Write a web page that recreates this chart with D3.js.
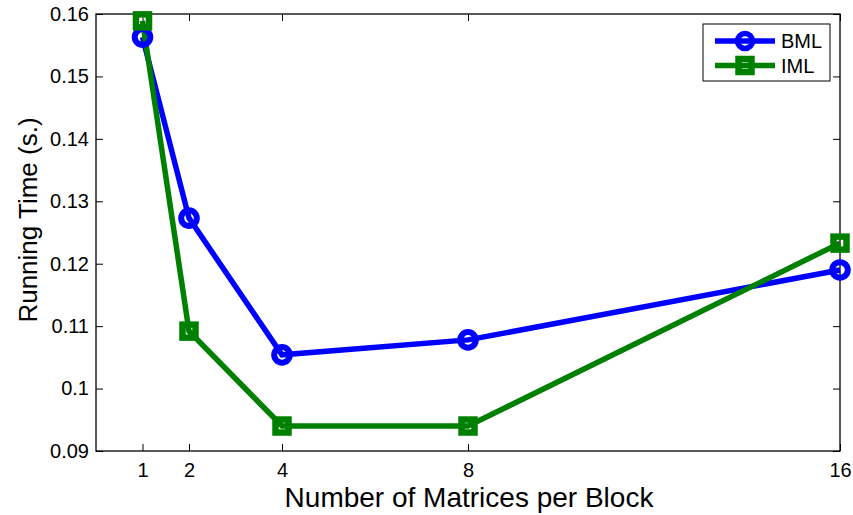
<!DOCTYPE html>
<html><head><meta charset="utf-8">
<script src="https://cdn.jsdelivr.net/npm/d3@7"></script>
<style>body{margin:0;background:#fff}svg{display:block;font-family:"Liberation Sans",Arial,sans-serif}</style>
</head><body><svg id="c" width="853" height="515"></svg>
<script>
const categories = [1, 2, 4, 8, 16];
const bml = [0.1563, 0.1273, 0.1054, 0.1078, 0.1190];
const iml = [0.1589, 0.1092, 0.0940, 0.0940, 0.1233];
const xTicks = [1, 2, 4, 8, 16];
const yTicks = [0.09, 0.1, 0.11, 0.12, 0.13, 0.14, 0.15, 0.16];
const seriesNames = ["BML", "IML"];

const svg = d3.select("#c");
const L = 96, R = 840, T = 14, B = 451;
const x = d3.scaleLinear().domain([0, 16]).range([L, R]);
const y = d3.scaleLinear().domain([0.09, 0.16]).range([B, T]);
const tl = 7;

svg.append("rect").attr("x", L).attr("y", T).attr("width", R - L).attr("height", B - T)
  .attr("fill", "none").attr("stroke", "#000").attr("stroke-width", 1.3);

const fmt = d => (d === 0.1 ? "0.1" : d3.format(".2f")(d));
const ax = svg.append("g").attr("transform", `translate(0,${B})`)
  .call(d3.axisBottom(x).tickValues(xTicks).tickSize(-tl).tickPadding(12).tickFormat(d3.format("d")));
const ay = svg.append("g").attr("transform", `translate(${L},0)`)
  .call(d3.axisLeft(y).tickValues(yTicks).tickSize(-tl).tickPadding(7).tickFormat(fmt));
const at = svg.append("g").attr("transform", `translate(0,${T})`)
  .call(d3.axisTop(x).tickValues(xTicks).tickSize(-tl).tickFormat(""));
const ar = svg.append("g").attr("transform", `translate(${R},0)`)
  .call(d3.axisRight(y).tickValues(yTicks).tickSize(-tl).tickFormat(""));
[ax, ay, at, ar].forEach(g => {
  g.select(".domain").remove();
  g.attr("font-size", 20).attr("font-family", "Liberation Sans, Arial, sans-serif");
  g.selectAll(".tick line").attr("stroke", "#000").attr("stroke-width", 1);
  g.selectAll("text").attr("fill", "#000");
});

const line = d3.line().x((d, i) => x(categories[i])).y(d => y(d));
const colors = ["#0000ff", "#008000"];
const data = [bml, iml];

data.forEach((s, k) => {
  svg.append("path").datum(s).attr("d", line).attr("fill", "none")
    .attr("stroke", colors[k]).attr("stroke-width", 5.5).attr("stroke-linejoin", "miter");
});
svg.selectAll(".m0").data(bml).enter().append("circle")
  .attr("cx", (d, i) => x(categories[i])).attr("cy", d => y(d)).attr("r", 7.8)
  .attr("fill", "none").attr("stroke", colors[0]).attr("stroke-width", 6);
svg.selectAll(".m1").data(iml).enter().append("rect")
  .attr("x", (d, i) => x(categories[i]) - 6.5).attr("y", d => y(d) - 6.5).attr("width", 13).attr("height", 13)
  .attr("fill", "none").attr("stroke", colors[1]).attr("stroke-width", 6.5);

const lg = svg.append("g");
lg.append("rect").attr("x", 703).attr("y", 24).attr("width", 127).attr("height", 57)
  .attr("fill", "#fff").attr("stroke", "#000").attr("stroke-width", 1);
seriesNames.forEach((n, k) => {
  const yy = 41 + k * 24.5;
  lg.append("line").attr("x1", 715).attr("x2", 775).attr("y1", yy).attr("y2", yy)
    .attr("stroke", colors[k]).attr("stroke-width", 5.5);
  if (k === 0) lg.append("circle").attr("cx", 745).attr("cy", yy).attr("r", 7.5)
    .attr("fill", "none").attr("stroke", colors[0]).attr("stroke-width", 5.5);
  else lg.append("rect").attr("x", 738.5).attr("y", yy - 6.5).attr("width", 13).attr("height", 13)
    .attr("fill", "none").attr("stroke", colors[1]).attr("stroke-width", 6.5);
  lg.append("text").attr("x", 781).attr("y", yy + 7).attr("font-size", 20).text(n);
});

svg.append("text").attr("x", 469).attr("y", 507).attr("text-anchor", "middle")
  .attr("font-size", 28).text("Number of Matrices per Block");
svg.append("text").attr("transform", `translate(37,220) rotate(-90)`).attr("text-anchor", "middle")
  .attr("font-size", 26).text("Running Time (s.)");
</script></body></html>
